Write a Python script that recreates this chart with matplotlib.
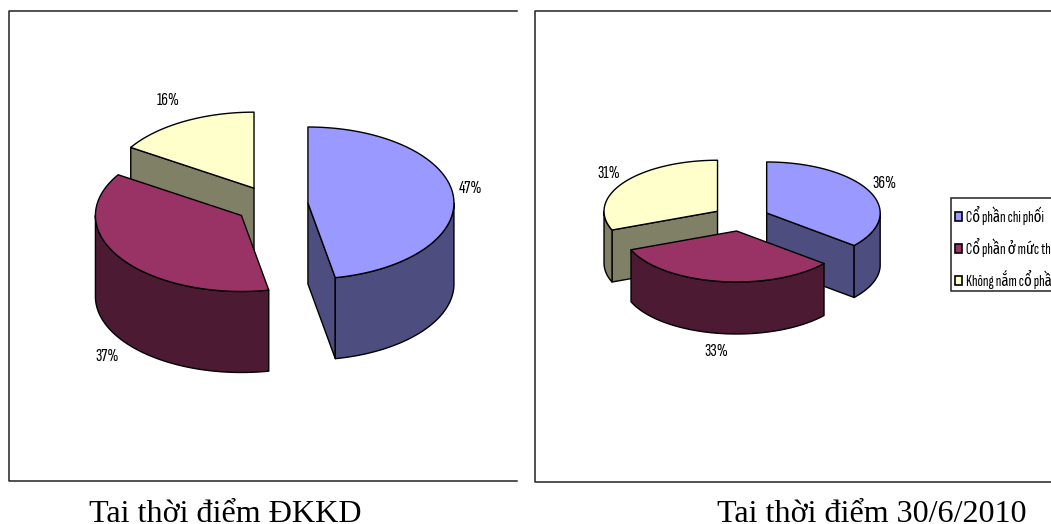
import numpy as np
import matplotlib
matplotlib.use("Agg")
import matplotlib.pyplot as plt
from matplotlib.patches import Polygon, Patch, Rectangle

series_names = ["Cổ phần chi phối", "Cổ phần ở mức thấp", "Không nắm cổ phần"]
values_dkkd = [47, 37, 16]
values_2010 = [36, 33, 31]
title_dkkd = "Tai thời điểm ĐKKD"
title_2010 = "Tai thời điểm 30/6/2010"

top_colors = ["#9999FF", "#993366", "#FFFFCC"]
side_colors = ["#4D4D80", "#4D1A33", "#808066"]
narrow = ["Sofia Sans Extra Condensed", "Fira Sans Extra Condensed", "Archivo Narrow", "Liberation Sans", "DejaVu Sans"]
serif = ["Liberation Serif", "DejaVu Serif"]
EXPLODE = 0.25

def arc(cx, cy, rx, ry, a0, a1, dy=0):
    t = np.radians(np.linspace(a0, a1, 120))
    return np.column_stack([cx + rx*np.sin(t), cy - ry*np.cos(t) + dy])

# exploded 3d pie, angles run clockwise from 12 o'clock
def pie3d(ax, values, cx, cy, rx, ry, depth):
    total = sum(values)
    stops = np.cumsum([0] + values) / total * 360
    wedges = []
    for i in range(len(values)):
        a0, a1 = stops[i], stops[i+1]
        mid = np.radians((a0 + a1) / 2)
        wedges.append((i, a0, a1, cx + EXPLODE*rx*np.sin(mid), cy - EXPLODE*ry*np.cos(mid)))
    # back slices first, the front one last
    wedges.sort(key=lambda w: w[4])
    for i, a0, a1, x, y in wedges:
        kw = dict(facecolor=side_colors[i], edgecolor="black", lw=1.0, joinstyle="round")
        apex = np.array([x, y])
        for a, visible in ((a0, np.sin(np.radians(a0)) < -1e-6), (a1, np.sin(np.radians(a1)) > 1e-6)):
            if visible:
                rim = arc(x, y, rx, ry, a, a, 0)[0]
                ax.add_patch(Polygon([apex, rim, rim + [0, depth], apex + [0, depth]], **kw))
        w0, w1 = max(a0, 90), min(a1, 270)
        if w0 < w1:
            upper = arc(x, y, rx, ry, w0, w1)
            lower = arc(x, y, rx, ry, w1, w0, depth)
            ax.add_patch(Polygon(np.vstack([upper, lower]), **kw))
        top = np.vstack([apex, arc(x, y, rx, ry, a0, a1)])
        ax.add_patch(Polygon(top, facecolor=top_colors[i], edgecolor="black", lw=1.0, joinstyle="round"))

fig = plt.figure(figsize=(10.51, 5.24), dpi=100, facecolor="white")
ax = fig.add_axes([0, 0, 1, 1])
ax.set_xlim(0, 1051)
ax.set_ylim(524, 0)
ax.axis("off")

# chart frames, open on the right
ax.plot([517, 8.5, 8.5, 517], [10.5, 10.5, 480.5, 480.5], color="#222222", lw=1.1)
ax.plot([1051, 535, 535, 1051], [10.5, 10.5, 482, 482], color="#222222", lw=1.1)

pie3d(ax, values_dkkd, 271.6, 204.8, 146, 76, 81)
pie3d(ax, values_2010, 741, 218.4, 113.5, 51, 52)

for v, (x, y) in zip(values_dkkd, [(471, 188), (107, 356), (168, 100)]):
    ax.text(x, y, f"{v}%", family=narrow, fontsize=13.5, ha="center", va="center")
for v, (x, y) in zip(values_2010, [(884, 183), (716, 351), (609, 173)]):
    ax.text(x, y, f"{v}%", family=narrow, fontsize=13.5, ha="center", va="center")

# legend box runs past the right edge
ax.add_patch(Rectangle((951, 198), 120, 93, facecolor="white", edgecolor="#222222", lw=1.1))
handles = [Patch(facecolor=c, edgecolor="black", lw=1.2) for c in top_colors]
ax.legend(handles, series_names, loc="upper left", bbox_to_anchor=(955, 206),
          bbox_transform=ax.transData, prop={"family": narrow, "size": 11.5},
          frameon=False, borderpad=0, labelspacing=0.82, handlelength=0.45,
          handleheight=0.45, handletextpad=0.25, borderaxespad=0)

ax.text(225.5, 521.5, title_dkkd, family=serif, fontsize=23.1, ha="center", va="baseline")
ax.text(872, 521.5, title_2010, family=serif, fontsize=23.1, ha="center", va="baseline")

fig.savefig("out.png", dpi=100)
